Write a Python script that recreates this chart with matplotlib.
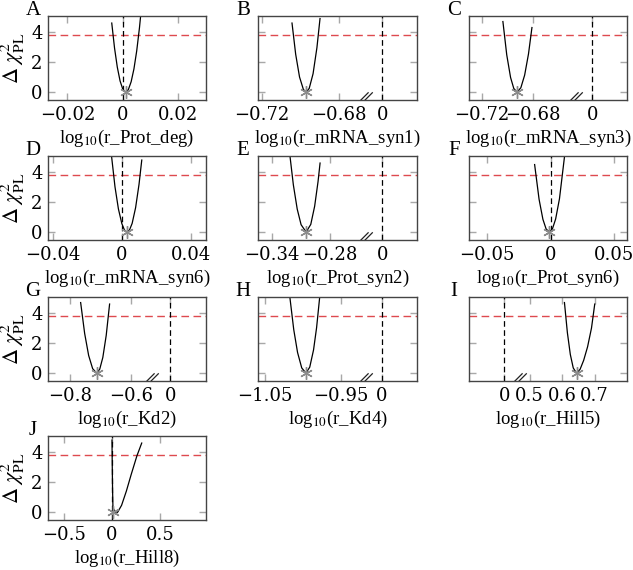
import numpy as np
import matplotlib
matplotlib.use("Agg")
import matplotlib.pyplot as plt
from matplotlib.path import Path

plt.rcParams['font.family'] = ['Liberation Serif', 'DejaVu Serif']
plt.rcParams['mathtext.fontset'] = 'stix'
plt.rcParams['font.size'] = 12.5

threshold = 3.78

# profile likelihood curves
prot_deg_x = [-0.004, -0.003, -0.002, -0.001, 0.0, 0.001, 0.002, 0.003, 0.004, 0.005, 0.006, 0.007]
prot_deg_y = [4.6, 2.94, 1.66, 0.74, 0.18, 0.0, 0.17, 0.69, 1.54, 2.74, 4.29, 6.17]
prot_deg_best = 0.001

mrna_syn1_x = [-0.7044, -0.7025, -0.7005, -0.6985, -0.6971, -0.6955, -0.6935, -0.6915, -0.6899]
mrna_syn1_y = [4.6, 2.52, 1.0, 0.17, 0.0, 0.24, 1.22, 2.96, 4.9]
mrna_syn1_best = -0.6971

mrna_syn3_x = [-0.7035, -0.7005, -0.6975, -0.695, -0.6925, -0.6895, -0.6865, -0.6835, -0.6808]
mrna_syn3_y = [4.7, 2.48, 0.97, 0.24, 0.0, 0.28, 1.13, 2.54, 4.3]
mrna_syn3_best = -0.6925

mrna_syn6_x = [-0.0065, -0.004, -0.002, 0.0, 0.0015, 0.003, 0.0045, 0.006, 0.008, 0.010, 0.0116]
mrna_syn6_y = [5.57, 3.02, 1.54, 0.56, 0.14, 0.0, 0.15, 0.58, 1.62, 3.18, 4.8]
mrna_syn6_best = 0.003

prot_syn2_x = [-0.322, -0.318, -0.314, -0.310, -0.3048, -0.300, -0.296, -0.2925, -0.2904]
prot_syn2_y = [5.35, 3.15, 1.53, 0.49, 0.0, 0.51, 1.72, 3.36, 4.6]
prot_syn2_best = -0.3048

prot_syn6_x = [-0.0125, -0.009, -0.006, -0.0035, -0.001, 0.0015, 0.004, 0.007, 0.0115]
prot_syn6_y = [4.5, 2.18, 0.85, 0.21, 0.0, 0.22, 0.87, 2.22, 5.42]
prot_syn6_best = -0.001

kd2_x = [-0.765, -0.752, -0.739, -0.726, -0.713, -0.703, -0.693, -0.682, -0.671]
kd2_y = [4.7, 2.64, 1.17, 0.29, 0.0, 0.26, 1.04, 2.51, 4.6]
kd2_best = -0.713

kd4_x = [-1.0175, -1.012, -1.007, -1.0015, -0.996, -0.991, -0.986, -0.982, -0.9775]
kd4_y = [5.22, 2.89, 1.37, 0.34, 0.0, 0.39, 1.54, 3.02, 5.27]
kd4_best = -0.996

hill5_x = [0.607, 0.616, 0.625, 0.634, 0.644, 0.655, 0.666, 0.678, 0.690, 0.700]
hill5_y = [4.7, 2.69, 1.24, 0.34, 0.0, 0.25, 0.85, 1.75, 3.0, 4.6]
hill5_best = 0.644

hill8_x = [0.0, 0.003, 0.006, 0.01, 0.04, 0.06, 0.10, 0.15, 0.20, 0.26, 0.31]
hill8_y = [4.8, 3.0, 1.5, 0.3, -0.12, 0.0, 0.45, 1.4, 2.5, 3.75, 4.6]
hill8_best = 0.01

names = ['r_Prot_deg', 'r_mRNA_syn1', 'r_mRNA_syn3', 'r_mRNA_syn6', 'r_Prot_syn2',
         'r_Prot_syn6', 'r_Kd2', 'r_Kd4', 'r_Hill5', 'r_Hill8']
letters = list('ABCDEFGHIJ')

# axis setup: (left, right, break_end, break_resume), tick values, tick labels
axis_info = [
    ((-0.027, 0.030, None, None), [-0.02, 0, 0.02], ['\u22120.02', '0', '0.02']),
    ((-0.722, 0.018, -0.666, -0.0083), [-0.72, -0.68, 0], ['\u22120.72', '\u22120.68', '0']),
    ((-0.730, 0.027, -0.646, -0.0125), [-0.72, -0.68, 0], ['\u22120.72', '\u22120.68', '0']),
    ((-0.043, 0.049, None, None), [-0.04, 0, 0.04], ['\u22120.04', '0', '0.04']),
    ((-0.3545, 0.036, -0.2428, -0.0165), [-0.34, -0.28, 0], ['\u22120.34', '\u22120.28', '0']),
    ((-0.064, 0.060, None, None), [-0.05, 0, 0.05], ['\u22120.05', '0', '0.05']),
    ((-0.871, 0.116, -0.532, -0.058), [-0.8, -0.6, 0], ['\u22120.8', '\u22120.6', '0']),
    ((-1.059, 0.046, -0.917, -0.021), [-1.05, -0.95, 0], ['\u22121.05', '\u22120.95', '0']),
    ((-0.108, 0.799, 0.05, 0.472), [0, 0.5, 0.6, 0.7], ['0', '0.5', '0.6', '0.7']),
    ((-0.667, 0.98, None, None), [-0.5, 0, 0.5], ['\u22120.5', '0', '0.5']),
]

curves = [
    (prot_deg_x, prot_deg_y, prot_deg_best),
    (mrna_syn1_x, mrna_syn1_y, mrna_syn1_best),
    (mrna_syn3_x, mrna_syn3_y, mrna_syn3_best),
    (mrna_syn6_x, mrna_syn6_y, mrna_syn6_best),
    (prot_syn2_x, prot_syn2_y, prot_syn2_best),
    (prot_syn6_x, prot_syn6_y, prot_syn6_best),
    (kd2_x, kd2_y, kd2_best),
    (kd4_x, kd4_y, kd4_best),
    (hill5_x, hill5_y, hill5_best),
    (hill8_x, hill8_y, hill8_best),
]


def broken_scale(b, z):
    gap = z - b

    def fwd(x):
        x = np.asarray(x, dtype=float)
        return np.where(x <= b, x, np.where(x >= z, x - gap, b))

    def inv(y):
        y = np.asarray(y, dtype=float)
        return np.where(y <= b, y, y + gap)

    return fwd, inv


break_mark = Path([(-1.5, -1), (0.5, 1), (-0.5, -1), (1.5, 1)],
                  [Path.MOVETO, Path.LINETO, Path.MOVETO, Path.LINETO])

W, H = 633, 570
fig = plt.figure(figsize=(W / 100, H / 100), dpi=100)

col_left = [48, 258, 469]
col_width = [158, 159, 158]
row_top = [16, 156, 297, 436]
ax_h = 84

tick_font = {'family': ['DejaVu Serif'], 'size': 13}

for i in range(10):
    r, c = divmod(i, 3)
    ax = fig.add_axes([col_left[c] / W, 1 - (row_top[r] + ax_h) / H,
                       col_width[c] / W, ax_h / H])
    (lo, hi, b, z), ticks, labels = axis_info[i]
    xs, ys, best = curves[i]

    if b is not None:
        ax.set_xscale('function', functions=broken_scale(b, z))

    ax.axhline(threshold, color='#de4a4f', ls=(0, (5.5, 3.2)), lw=1.0)
    ax.axvline(0, color='black', ls=(0, (4.5, 2.8)), lw=0.9)
    ax.plot(xs, ys, color='black', lw=0.9)
    ax.plot([best], [0], marker=(6, 2, 0), ms=9, mew=1.0, color='#8c8c8c', ls='none')

    if b is not None:
        ax.plot([b], [0.045], marker=break_mark, ms=9, mew=0.9, mfc='none',
                color='#222222', transform=ax.get_xaxis_transform(), clip_on=False)

    ax.set_xlim(lo, hi)
    ax.set_ylim(-0.53, 5.07)
    ax.set_xticks(ticks)
    ax.set_xticklabels(labels, fontdict=tick_font)
    ax.set_yticks([0, 2, 4])
    if c == 0:
        ax.set_yticklabels(['0', '2', '4'], fontdict=tick_font)
        ax.set_ylabel(r'$\Delta\ \chi^2_{\mathrm{PL}}$', fontsize=16, labelpad=3)
    else:
        ax.set_yticklabels([])
    ax.minorticks_off()
    ax.tick_params(direction='in', length=5, width=1, color='#a8a8a8',
                   top=True, right=True, pad=4)
    for s in ax.spines.values():
        s.set_color('#444444')
        s.set_linewidth(1.0)
    ax.set_xlabel('log$_{10}$(' + names[i] + ')', fontsize=13.5, labelpad=3)
    ax.text(-0.095, 1.07, letters[i], transform=ax.transAxes, fontsize=15,
            ha='center', va='center')

fig.savefig('out.png', dpi=100)
